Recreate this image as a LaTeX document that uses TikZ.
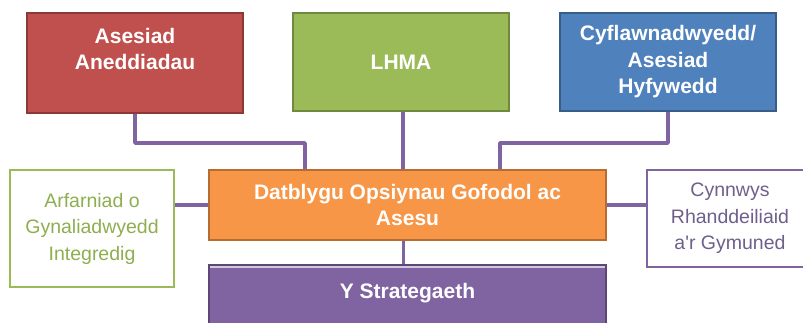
\documentclass[tikz,border=0pt]{standalone}
\usepackage{fontspec}
\setmainfont{Liberation Sans}
\definecolor{cred}{HTML}{C0504D}
\definecolor{credd}{HTML}{8C3836}
\definecolor{cgreen}{HTML}{9BBB59}
\definecolor{cgreend}{HTML}{71893F}
\definecolor{cblue}{HTML}{4F81BD}
\definecolor{cblued}{HTML}{385D8A}
\definecolor{corange}{HTML}{F79646}
\definecolor{coranged}{HTML}{B66D31}
\definecolor{cpurple}{HTML}{8064A2}
\definecolor{cpurpled}{HTML}{5C4776}
\definecolor{cgtext}{HTML}{8FAE50}
\definecolor{cptext}{HTML}{6E5F8C}
\begin{document}
\begin{tikzpicture}[x=1pt,y=-1pt,
  box/.style={rectangle,line width=2pt,inner sep=0pt,align=center,text=white,
    font=\fontsize{21}{26.5}\selectfont\bfseries},
  wbox/.style={rectangle,line width=2.5pt,fill=white,inner sep=0pt,align=center,
    font=\fontsize{19.5}{26.5}\selectfont},
  conn/.style={line width=3.8pt,cpurple,line join=round}]
\useasboundingbox (0,0) rectangle (803,323);
\node[box,fill=cred,draw=credd,minimum width=216,minimum height=100] (red) at (135,63) {};
\node[box,text=white] (redt) at (135,49) {Asesiad\\Aneddiadau};
\node[box,fill=cgreen,draw=cgreend,minimum width=216,minimum height=98] (green) at (401,62) {LHMA};
\node[box,fill=cblue,draw=cblued,minimum width=216,minimum height=98] (blue) at (668,62) {Cyflawnadwyedd/\\Asesiad\\Hyfywedd};
\node[box,fill=corange,draw=coranged,minimum width=397,minimum height=70] (orange) at (407.5,205) {Datblygu Opsiynau Gofodol ac\\Asesu};
\node[box,fill=cpurple,draw=cpurpled,minimum width=397,minimum height=76] (strat) at (407.5,303) {};
\draw[white!65!cpurple,line width=1.2pt] ([yshift=-3,xshift=2]strat.north west) -- ([yshift=-3,xshift=-2]strat.north east);
\node[box] (stratt) at (407.5,293) {Y Strategaeth};
\node[wbox,draw=cgreen,text=cgtext,minimum width=164,minimum height=117] (left) at (92,228.5) {Arfarniad o\\Gynaliadwyedd\\Integredig};
\node[wbox,draw=cpurple,text=cptext,minimum width=166,minimum height=97] (right) at (730,218.5) {Cynnwys\\Rhanddeiliaid\\a\textquotesingle r Gymuned};
\draw[conn] (red.south) -- ++(0,29) -| ([xshift=-102.5]orange.north);
\draw[conn] (blue.south) -- ++(0,31) -| ([xshift=92.5]orange.north);
\draw[conn] ([xshift=2]green.south) -- ([xshift=2]green.south |- orange.north);
\draw[conn] (orange.west -| left.east) -- (orange.west);
\draw[conn] (orange.east) -- (orange.east -| right.west);
\draw[conn] ([xshift=-4]orange.south) -- ([xshift=-4]strat.north);
\end{tikzpicture}
\end{document}
